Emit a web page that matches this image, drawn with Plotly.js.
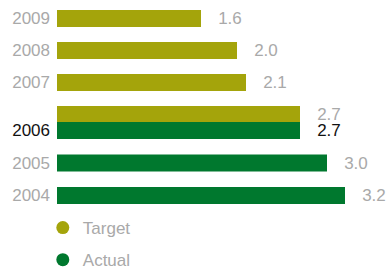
<!DOCTYPE html>
<html>
<head>
<meta charset="utf-8">
<script src="https://cdn.plot.ly/plotly-3.0.1.min.js"></script>
<style>html,body{margin:0;padding:0;background:#fff;overflow:hidden;}#chart{width:387px;height:290px;}</style>
</head>
<body>
<div id="chart"></div>
<script>
// Data
const targetYears = ['2009', '2008', '2007', '2006'];
const targetValues = [1.6, 2.0, 2.1, 2.7];
const actualYears = ['2006', '2005', '2004'];
const actualValues = [2.7, 3.0, 3.2];
const seriesNames = ['Target', 'Actual'];
const highlightYear = '2006';

const OLIVE = '#A4A40B';
const GREEN = '#00782E';
const GREY = '#A9A9A9';
const BLACK = '#111111';
const FONT = 'Liberation Sans, Arial, sans-serif';
const pad = '\u00A0\u00A0\u00A0';

const traces = [
  {
    type: 'bar', orientation: 'h', name: seriesNames[0],
    y: targetYears, x: targetValues, yaxis: 'y', xaxis: 'x',
    marker: {color: OLIVE}, width: 0.53,
    text: targetValues.map(v => pad + v.toFixed(1)),
    textposition: 'outside', cliponaxis: false, constraintext: 'none',
    textfont: {family: FONT, size: 17, color: GREY},
    showlegend: false, hoverinfo: 'skip'
  },
  {
    type: 'bar', orientation: 'h', name: seriesNames[1],
    y: actualYears, x: actualValues, yaxis: 'y2', xaxis: 'x',
    marker: {color: GREEN}, width: 0.53,
    text: actualValues.map(v => pad + v.toFixed(1)),
    textposition: 'outside', cliponaxis: false, constraintext: 'none',
    textfont: {family: FONT, size: 17, color: actualYears.map(y => y === highlightYear ? BLACK : GREY)},
    showlegend: false, hoverinfo: 'skip'
  },
  {
    type: 'scatter', mode: 'markers', name: seriesNames[0], x: [null], y: [null],
    marker: {color: OLIVE, size: 13, symbol: 'circle'}, legendgroup: 'a', showlegend: true
  },
  {
    type: 'scatter', mode: 'markers', name: seriesNames[1], x: [null], y: [null],
    marker: {color: GREEN, size: 13, symbol: 'circle'}, legendgroup: 'b', showlegend: true
  }
];

const H = 290;
const layout = {
  width: 387, height: H,
  margin: {l: 57, r: 0, t: 0, b: 0, autoexpand: false},
  paper_bgcolor: '#fff', plot_bgcolor: 'rgba(0,0,0,0)',
  font: {family: FONT, size: 17, color: GREY},
  barmode: 'overlay',
  showlegend: true,
  legend: {
    x: -0.043, xanchor: 'left', y: 1 - 210/H, yanchor: 'top',
    font: {family: FONT, size: 17, color: GREY},
    tracegroupgap: 7, bgcolor: 'rgba(0,0,0,0)'
  },
  xaxis: {
    range: [0, 330/90], showgrid: false, zeroline: false, showline: false,
    showticklabels: false, ticks: '', fixedrange: true
  },
  yaxis: {
    type: 'category', domain: [1 - 130.5/H, 1 - 2.5/H], range: [3.5, -0.5],
    categoryorder: 'array', categoryarray: targetYears,
    tickvals: targetYears.filter(y => y !== highlightYear),
    ticktext: targetYears.filter(y => y !== highlightYear),
    showgrid: false, zeroline: false, showline: false, ticks: '',
    ticklabelstandoff: 6, tickfont: {family: FONT, size: 17, color: GREY}, anchor: 'x'
  },
  yaxis2: {
    type: 'category', domain: [1 - 211.75/H, 1 - 114.25/H], range: [2.5, -0.5],
    categoryorder: 'array', categoryarray: actualYears,
    tickvals: actualYears,
    ticktext: actualYears.map(y => y === highlightYear ? '<span style="color:' + BLACK + '">' + y + '</span>' : y),
    showgrid: false, zeroline: false, showline: false, ticks: '',
    ticklabelstandoff: 6, tickfont: {family: FONT, size: 17, color: GREY}, anchor: 'x'
  }
};

Plotly.newPlot('chart', traces, layout, {staticPlot: true, displayModeBar: false});
</script>
</body>
</html>
